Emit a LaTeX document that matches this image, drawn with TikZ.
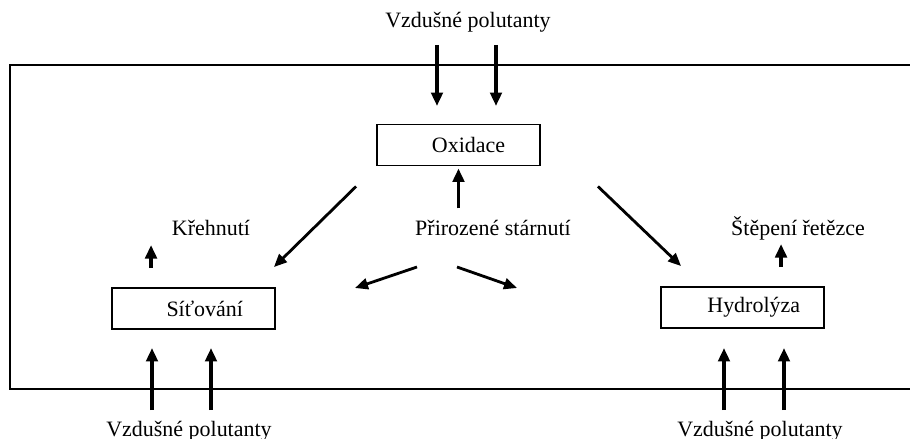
\documentclass[tikz,border=0pt]{standalone}
\usepackage{fontspec}
\setmainfont{Liberation Serif}
\usepackage{tikz}
\usetikzlibrary{arrows.meta, positioning, calc}

\begin{document}
\begin{tikzpicture}[
    x=0.02cm, y=-0.02cm,
    lbl/.style={inner sep=0pt, font=\fontsize{12.5}{14}\selectfont},
    box/.style={rectangle, draw, line width=1.1pt, minimum width=3.26cm, minimum height=0.82cm, inner sep=0pt, font=\fontsize{12.5}{14}\selectfont},
    arrow/.style={-{Triangle[length=0.27cm, width=0.23cm]}, line width=2pt},
    diagarrow/.style={-{Triangle[length=0.26cm, width=0.22cm]}, line width=1.6pt}
]
\useasboundingbox (0,0) rectangle (910,439);
\clip (0,0) rectangle (910,439);

% outer frame (right side runs off the page)
\draw[line width=1.1pt] (925,65) -- (10,65) -- (10,389) -- (925,389);

% boxes
\node[box] (oxid) at (458.5,145) {\hspace{0.4cm}Oxidace};
\node[box] (sitov) at (193.5,308.5) {\hspace{0.45cm}Síťování};
\node[box] (hydro) at (742.5,307.5) {\hspace{0.45cm}Hydrolýza};

% labels
\node[lbl] (topsrc) at (468,22) {Vzdušné polutanty};
\node[lbl] (prir) at (493,228) {Přirozené stárnutí};
\node[lbl] (kreh) at (211,228) {Křehnutí};
\node[lbl] (stepeni) at (798,228) {Štěpení řetězce};
\node[lbl] (botleft) at (189,431) {Vzdušné polutanty};
\node[lbl] (botright) at (760,431) {Vzdušné polutanty};

% pollutant arrows
\foreach \x in {437,496}
    \draw[arrow] (\x,45) -- (\x,106);
\foreach \x in {152,211,724,784}
    \draw[arrow] (\x,410) -- (\x,348);

% Oxidace to products
\draw[diagarrow] ($(oxid.south west)+(-20,20)$) -- ($(sitov.north east)+(-2,-20)$);
\draw[diagarrow] ($(oxid.south east)+(57,20)$) -- ($(hydro.north west)+(21,-20)$);

% natural ageing
\draw[arrow] ($(oxid.south)+(0,42)$) -- ($(oxid.south)+(0,2)$);
\draw[diagarrow] ($(prir)+(-76,39)$) -- ($(prir)+(-138,60)$);
\draw[diagarrow] ($(prir)+(-36,39)$) -- ($(prir)+(24,60)$);

% small arrows to effects
\draw[arrow] ($(sitov.north west)+(40,-19)$) -- ($(sitov.north west)+(40,-42)$);
\draw[arrow] ($(hydro.north west)+(121,-19)$) -- ($(hydro.north west)+(121,-42)$);

\end{tikzpicture}
\end{document}
